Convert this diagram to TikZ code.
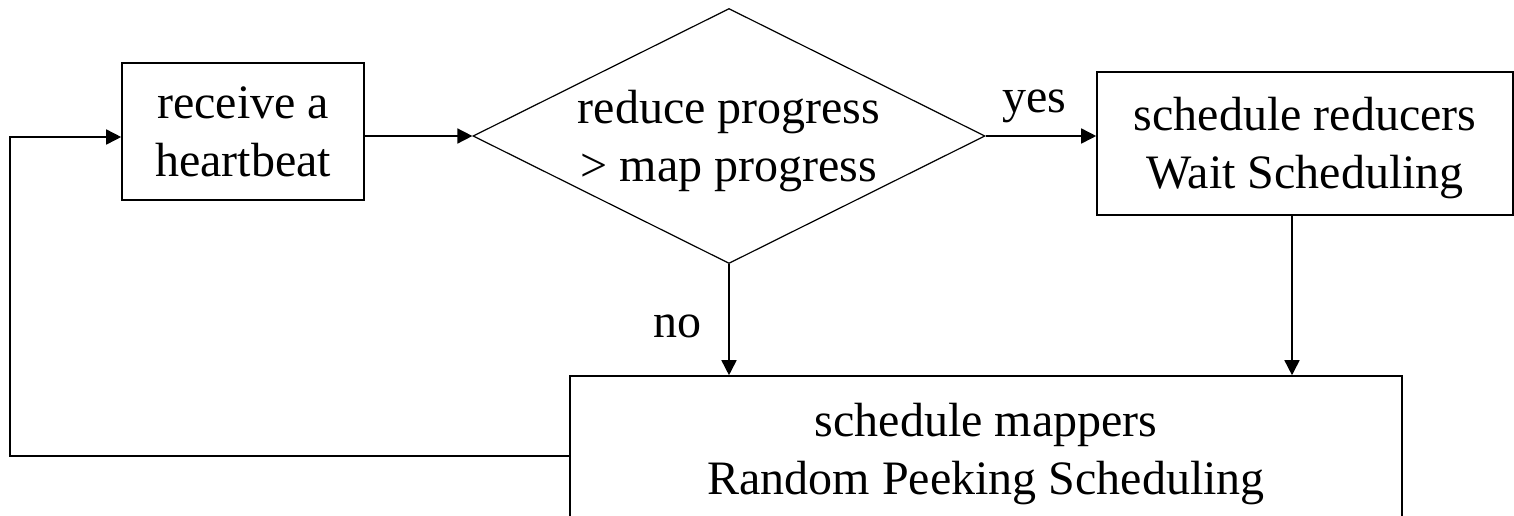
\documentclass[tikz,border=0pt]{standalone}
\usepackage{fontspec}
\setmainfont{Liberation Serif}
\usetikzlibrary{shapes.geometric,arrows.meta}
\newcommand\lst{\rule[-10.4pt]{0pt}{53.2pt}}
\begin{document}
\begin{tikzpicture}[x=1pt,y=-1pt,
  txt/.style={font=\fontsize{48}{58}\selectfont, align=center, inner sep=0pt},
  box/.style={txt, draw, line width=1.6pt},
  arr/.style={line width=1.6pt, line join=miter, -{Triangle[length=15pt,width=15pt]}}]
\useasboundingbox (0,0) rectangle (1514,515);
\clip (0,0) rectangle (1514,515);
\node[box, minimum width=242pt, minimum height=137pt] (hb) at (243,131.5) {\lst receive a\\\lst heartbeat};
\node[diamond, draw, line width=1.2pt, minimum width=512pt, minimum height=255pt, inner sep=0pt] (dia) at (729,136) {};
\node[txt] (dtx) at (dia.center) {\lst reduce progress\\\lst > map progress};
\node[box, minimum width=416pt, minimum height=143pt] (red) at (1305,143.5) {\lst schedule reducers\\\lst Wait Scheduling};
\node[box, minimum width=832pt, minimum height=146pt] (map) at (986,449) {\lst schedule mappers\\\lst Random Peeking Scheduling};
\node[txt, anchor=base] (yes) at (1034,112) {yes};
\node[txt, anchor=base] (no) at (677,337) {no};
\draw[arr] (hb.east |- dia.west) -- (dia.west);
\draw[arr] (dia.east) -- (red.west |- dia.east);
\draw[arr] (dia.south) -- (dia.south |- map.north);
\coordinate (rs) at ([xshift=-13pt]red.south);
\draw[arr] (rs) -- (rs |- map.north);
\coordinate (ls) at ([yshift=-7pt]map.west);
\coordinate (lc) at (10,456);
\coordinate (lt) at (10,137);
\draw[arr] (ls) -- (lc) -- (lt) -- (hb.west |- lt);
\end{tikzpicture}
\end{document}
